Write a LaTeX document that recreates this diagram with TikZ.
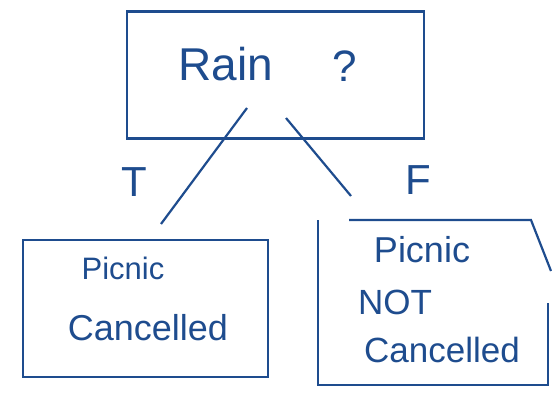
\documentclass[tikz,border=0pt]{standalone}
\usepackage{fontspec}
\setmainfont{Liberation Sans}
\definecolor{ink}{RGB}{30,76,142}
\begin{document}
\begin{tikzpicture}[x=1pt,y=-1pt,
  ink/.style={draw=ink,line width=2.2pt},
  boxnode/.style={ink,rectangle,inner sep=0pt},
  hand/.style={text=ink,inner sep=0pt,anchor=center},
  fs/.style={hand,font=\fontsize{#1}{#1}\selectfont}]
\useasboundingbox (0,0) rectangle (552,404);
% top box
\node[boxnode,minimum width=297pt,minimum height=127pt] (top) at (275.5,75) {};
\node[fs=46] (rain) at (226,64) {Rain};
\node[fs=44] (q) at (345,66) {?};
% left box
\node[boxnode,minimum width=245pt,minimum height=137pt] (left) at (145.5,308.5) {};
\node[fs=31] (lp) at (123,268) {Picnic};
\node[fs=36] (lc) at (148,328) {Cancelled};
% right open box
\coordinate (r1) at (349,220);
\coordinate (r2) at (531,220);
\coordinate (r3) at (551,271);
\coordinate (r4) at (548,303);
\coordinate (r5) at (548,385);
\coordinate (r6) at (318,385);
\coordinate (r7) at (318,220);
\draw[ink,line join=miter] (r1) -- (r2) -- (r3);
\draw[ink,line join=miter] (r4) -- (r5) -- (r6) -- (r7);
\node[fs=36] (rp) at (422,250) {Picnic};
\node[fs=35] (rn) at (395,302) {NOT};
\node[fs=35] (rc) at (442,350) {Cancelled};
% connectors
\coordinate (t1) at (247,108);
\coordinate (t2) at (161,224);
\coordinate (f1) at (286,118);
\coordinate (f2) at (351,196);
\draw[ink] (t1) -- (t2);
\draw[ink] (f1) -- (f2);
\node[fs=42] (tl) at (134,182) {T};
\node[fs=42] (fl) at (418,180) {F};
\end{tikzpicture}
\end{document}
